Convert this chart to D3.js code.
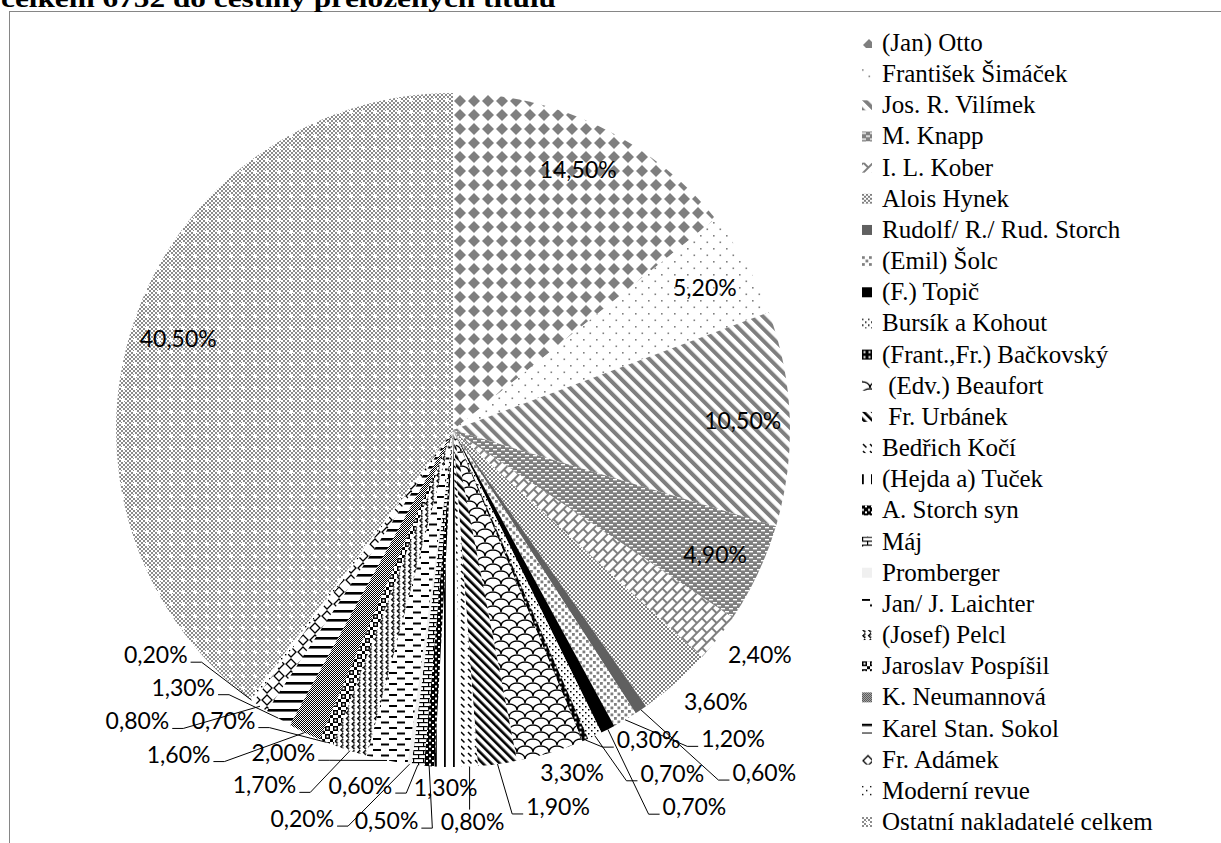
<!DOCTYPE html>
<html>
<head>
<meta charset="utf-8">
<script src="https://cdn.jsdelivr.net/npm/d3@7"></script>
<style>
  body { margin: 0; background: #fff; }
</style>
</head>
<body>
<div id="graf"></div>
<script>
// Data
const titulek = "celkem 6752 do češtiny přeložených titulů"
const nakladatele = [
  "(Jan) Otto", "František Šimáček", "Jos. R. Vilímek", "M. Knapp", "I. L. Kober",
  "Alois Hynek", "Rudolf/ R./ Rud. Storch", "(Emil) Šolc", "(F.) Topič", "Bursík a Kohout",
  "(Frant.,Fr.) Bačkovský", " (Edv.) Beaufort", " Fr. Urbánek", "Bedřich Kočí", "(Hejda a) Tuček",
  "A. Storch syn", "Máj", "Promberger", "Jan/ J. Laichter", "(Josef) Pelcl",
  "Jaroslav Pospíšil", "K. Neumannová", "Karel Stan. Sokol", "Fr. Adámek", "Moderní revue",
  "Ostatní nakladatelé celkem"
]
const podil = [
  14.5, 5.2, 10.5, 4.9, 2.4,
  3.6, 0.6, 1.2, 0.7, 0.7,
  0.3, 3.3, 1.9, 0.8, 1.3,
  0.5, 0.6, 0.2, 2.0, 1.7,
  0.7, 1.6, 1.3, 0.8, 0.2,
  40.5
]

// Rozmery
const sirka = 1221, vyska = 843
const cx = 453, cy = 430, R = 337
const gray = "#7f7f7f"

const svg = d3.select("#graf").append("svg")
  .attr("width", sirka).attr("height", vyska)
const defs = svg.append("defs")

// Vzory (patterns)
const pat = (id, w, h, draw, tr) => {
  const p = defs.append("pattern").attr("id", id)
    .attr("patternUnits", "userSpaceOnUse").attr("width", w).attr("height", h)
  if (tr) p.attr("patternTransform", tr)
  p.append("rect").attr("width", w).attr("height", h).attr("fill", "#fff")
  draw(p)
}
const rect = (p, x, y, w, h, c) => p.append("rect").attr("x", x).attr("y", y).attr("width", w).attr("height", h).attr("fill", c)
const cesta = (p, d, c, sw, fill) => p.append("path").attr("d", d).attr("stroke", c).attr("stroke-width", sw).attr("fill", fill || "none")

const vzory = [
  p => cesta(p, "M7,1 L13,7 L7,13 L1,7Z", "none", 0, gray),            // Otto
  p => { rect(p, 0, 0, 1.6, 1.6, gray); rect(p, 6.5, 6.5, 1.6, 1.6, gray) },
  p => rect(p, 0, 0, 4, 8.5, gray),                                     // Vilimek
  p => { rect(p, 0, 0, 8, 6, gray); rect(p, 0, 1, 4, 1.4, "#fff"); rect(p, 4, 4, 4, 1.4, "#fff") },
  p => { rect(p, 0, 0, 14, 2, gray); rect(p, 0, 7, 14, 2, gray); rect(p, 0, 0, 2, 7, gray); rect(p, 7, 7, 2, 7, gray) },
  p => { rect(p, 0, 0, 2, 2, gray); rect(p, 2, 2, 2, 2, gray) },        // Hynek
  p => rect(p, 0, 0, 8, 8, "#606060"),                                   // Rudolf Storch
  p => { rect(p, 0, 0, 2.8, 2.8, gray); rect(p, 3.5, 3.5, 2.8, 2.8, gray) },
  p => rect(p, 0, 0, 8, 8, "#000"),                                      // Topic
  p => { rect(p, 0, 0, 1.5, 1.5, "#000"); rect(p, 3, 3, 1.5, 1.5, "#000") },
  p => { rect(p, 0, 0, 5, 5, "#000"); rect(p, 1.5, 1.5, 2, 2, "#fff") },
  p => { cesta(p, "M0,14 C0,6 16,6 16,14 M-8,7 C-8,-1 8,-1 8,7 M8,7 C8,-1 24,-1 24,7", "#000", 1.5) },
  p => rect(p, 0, 0, 2.6, 6, "#000"),                                    // Urbanek
  p => cesta(p, "M1,1 L4.5,4.5", "#000", 1.5),                           // Koci
  p => rect(p, 0, 0, 1.8, 9, "#000"),                                    // Tucek
  p => { rect(p, 0, 0, 6, 6, "#000"); rect(p, 3, 0, 2, 2, "#fff"); rect(p, 0, 3.5, 2, 2, "#fff") },
  p => { rect(p, 0, 0, 10, 1.2, "#000"); rect(p, 0, 4, 10, 1.2, "#000"); rect(p, 0, 0, 1.2, 4, "#000"); rect(p, 5, 4, 1.2, 4, "#000") },
  p => rect(p, 0, 0, 8, 8, "#f0f0f0"),                                   // Promberger
  p => { rect(p, 0, 0, 8, 2, "#000"); rect(p, 8, 5.5, 8, 2, "#000") },   // Laichter
  p => { rect(p, 0, 0, 4, 1.5, "#000"); rect(p, 4, 4, 4, 1.5, "#000"); rect(p, 0, 0, 1.5, 4, "#000"); rect(p, 4, 4, 1.5, 4, "#000") },
  p => { rect(p, 0, 0, 5, 5, "#000"); rect(p, 1.5, 1.5, 2, 2, "#fff"); rect(p, 5, 5, 3, 3, "#000") },
  p => { rect(p, 0, 0, 1, 1, "#000"); rect(p, 1, 1, 1, 1, "#000") },     // Neumannova
  p => rect(p, 0, 0, 9, 2.6, "#000"),                                    // Sokol
  p => cesta(p, "M6,1 L11,6 L6,11 L1,6Z", "#000", 1.3),                  // Adamek
  p => { rect(p, 0, 0, 1.4, 1.4, "#000"); rect(p, 4, 4, 1.4, 1.4, "#000") },
  p => {                                                                  // Ostatni
    for (let i = 0; i < 6; i++) for (let j = 0; j < 6; j++) if ((i + j) % 2 === 0) rect(p, i * 2, j * 2, 2, 2, "#8c8c8c")
    rect(p, 5, 4, 2, 4, "#fff"); rect(p, 4, 5, 4, 2, "#fff")
  }
]
const rozmery = [
  [14, 14], [13, 13], [8.5, 8.5, "rotate(-45)"], [8, 6], [14, 14, "rotate(-45)"],
  [4, 4], [8, 8], [7, 7], [8, 8], [6, 6],
  [5, 5], [16, 14], [6, 6, "rotate(-45)"], [7, 7], [9, 9],
  [6, 6], [10, 8], [8, 8], [16, 11], [8, 8, "rotate(-45)"],
  [8, 8], [2, 2], [9, 9], [12, 12], [8, 8],
  [12, 12]
]
vzory.forEach((f, i) => pat(`p${i}`, rozmery[i][0], rozmery[i][1], f, rozmery[i][2]))

// Ramecek a titulek
svg.append("rect").attr("x", 9.5).attr("y", 11.5).attr("width", 1300).attr("height", 900)
  .attr("fill", "none").attr("stroke", "#868686")
svg.append("text").attr("x", 1).attr("y", 7).text(titulek)
  .attr("font-family", "Liberation Serif").attr("font-size", 26).attr("font-weight", "bold")
  .attr("textLength", 555).attr("lengthAdjust", "spacingAndGlyphs")

// Kolac
const data = nakladatele.map((n, i) => ({ n, v: podil[i] }))
const pie = d3.pie().sort(null).value(d => d.v)
const arcs = pie(data)
const arc = d3.arc().innerRadius(0).outerRadius(R)
const g = svg.append("g").attr("transform", `translate(${cx}, ${cy})`)
g.selectAll("path.slice").data(arcs).join("path").attr("class", "slice")
  .attr("d", arc).attr("fill", d => `url(#p${d.index})`)

// Popisky
const fmt = v => v.toFixed(2).replace(".", ",") + "%"
const lblFont = "Lato, 'Open Sans', sans-serif", lblSize = 23
const lblG = g.append("g")
const uvnitr = d3.arc().innerRadius(R * 0.86).outerRadius(R * 0.86)

arcs.filter(d => d.data.v >= 4).forEach(d => {
  const [x, y] = uvnitr.centroid(d)
  lblG.append("text").attr("x", x).attr("y", y).attr("text-anchor", "middle")
    .attr("dominant-baseline", "central").attr("font-family", lblFont)
    .attr("font-size", lblSize).text(fmt(d.data.v))
})

// rozmisteni vnejsich popisku: vetsi nejdriv, pak od spodku kolace ven, bez prekryvu
const placed = []
const h = 32, padX = 10, gap = 10
const clamp = v => Math.max(-1, Math.min(1, v))
const uhel = (x, y) => (Math.atan2(x, -y) + 2 * Math.PI) % (2 * Math.PI)
const mid = d => (d.startAngle + d.endAngle) / 2
const cands = []
for (let dx = -460; dx <= 320; dx += 3)
  for (let dy = -280; dy <= 120; dy += 2) cands.push([dx, dy, Math.hypot(dx, dy)])
cands.sort((a, b) => a[2] - b[2])

const box = (x, y, w) => ({ l: x - w / 2 - padX, r: x + w / 2 + padX, t: y - h / 2, b: y + h / 2 })
const volne = (bx) => {
  if (bx.l + cx < 6 || bx.r + cx > 850 || bx.t + cy < 14 || bx.b + cy > 844) return false
  const nx = Math.max(bx.l + padX, Math.min(0, bx.r - padX)), ny = Math.max(bx.t + 5, Math.min(0, bx.b - 5))
  if (Math.hypot(nx, ny) < R + 3) return false
  return placed.every(p => bx.r < p.l || bx.l > p.r || bx.b < p.t || bx.t > p.b)
}
const poradi = (m, x, y) => {
  const u = uhel(x, y)
  return placed.every(p => (p.m < m ? p.u <= u : p.u >= u))
}

const vnejsi = arcs.filter(d => d.data.v < 4)
const velke = vnejsi.filter(d => d.data.v > 2).sort((a, b) => b.data.v - a.data.v)
const male = vnejsi.filter(d => d.data.v <= 2)
  .sort((a, b) => Math.abs(mid(a) - Math.PI) - Math.abs(mid(b) - Math.PI))
velke.concat(male).forEach(d => {
  const t = lblG.append("text").attr("text-anchor", "middle").attr("dominant-baseline", "central")
    .attr("font-family", lblFont).attr("font-size", lblSize)
    .text(fmt(d.data.v))
  const w = t.node().getBBox().width
  const a = mid(d)
  const ux = Math.sin(a), uy = -Math.cos(a)
  const P = [ux * R, uy * R]
  const nat = [P[0] + ux * gap + (w / 2 + 3) * clamp(2 * ux), P[1] + uy * gap + (h / 2 - 6) * clamp(2 * uy)]
  let pos = null, dist = 0
  for (const pass of [true, false]) {
    for (const c of cands) {
      const x = nat[0] + c[0], y = nat[1] + c[1]
      if (volne(box(x, y, w)) && (!pass || poradi(a, x, y))) { pos = [x, y]; dist = c[2]; break }
    }
    if (pos) break
  }
  if (!pos) pos = nat
  const bx = box(pos[0], pos[1], w)
  bx.m = a; bx.u = uhel(pos[0], pos[1])
  placed.push(bx)
  t.attr("x", pos[0]).attr("y", pos[1])
  if (dist > 8) {
    const ym = pos[1] + 8, l = pos[0] - w / 2, r = pos[0] + w / 2
    let pts
    if (P[0] >= l + 2 && P[0] <= r - 2) pts = [P, [P[0], pos[1] - 11]]
    else if (r < P[0]) pts = [P, [r + 14, ym], [r + 3, ym]]
    else pts = [P, [l - 14, ym], [l - 3, ym]]
    lblG.append("path").attr("d", d3.line()(pts)).attr("fill", "none")
      .attr("stroke", "#000").attr("stroke-width", 1)
  }
})

// Legenda
const rowH = 31.16
const leg = svg.append("g").attr("transform", "translate(862, 43)")
const li = leg.selectAll("g").data(nakladatele).join("g")
  .attr("transform", (d, i) => `translate(0, ${i * rowH})`)
li.append("rect").attr("transform", "translate(0, -5)").attr("width", 10).attr("height", 10)
  .attr("fill", (d, i) => `url(#p${i})`)
li.append("text").attr("x", 20).attr("y", 8).text(d => d)
  .style("white-space", "pre")
  .attr("font-family", "'Liberation Serif', serif").attr("font-size", 25).attr("fill", "#000")
</script>
</body>
</html>
